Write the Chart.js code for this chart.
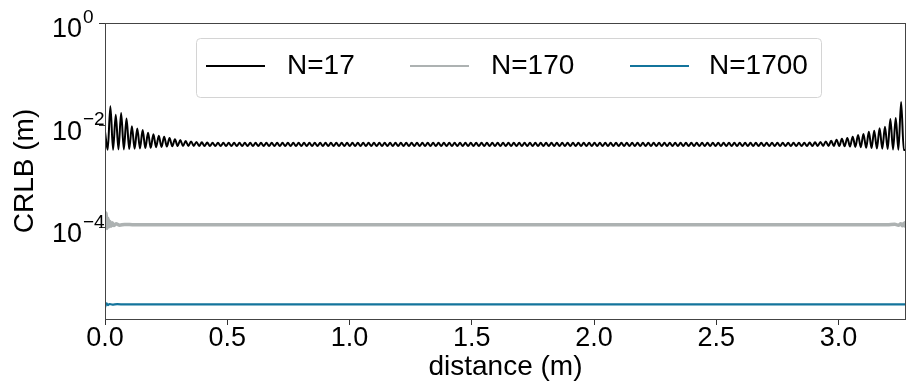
<!DOCTYPE html>
<html>
<head>
<meta charset="utf-8">
<script src="https://cdn.jsdelivr.net/npm/chart.js@4.4.1/dist/chart.umd.min.js"></script>
<style>
  html, body { margin: 0; padding: 0; background: #fff; }
  #contenedor { width: 906px; height: 388px; }
</style>
</head>
<body>
<div id="contenedor"><canvas id="graficaCRLB" width="906" height="388"></canvas></div>
<script>
const fuente = "'Liberation Sans', Arial, sans-serif";

// N=17: muestras cada media oscilacion (m)
const pasoN17 = 0.011;
// maximos (posiciones pares) y minimos (impares) de N=17, en mm
const picosN17 = [
  7.5, 23.5, 16, 17.2, 13.5, 9.5, 8.6, 8.0, 7.1, 6.6, 6.2, 5.9, 5.6, 5.3, 5.1, 4.9, 4.8, 4.7, 4.6, 4.55, 4.5, 4.5,
  4.5, 4.5, 4.5, 4.5, 4.5, 4.5, 4.5, 4.5, 4.5, 4.5, 4.5, 4.5, 4.5, 4.5, 4.5, 4.5, 4.5, 4.5,
  4.5, 4.5, 4.5, 4.5, 4.5, 4.5, 4.5, 4.5, 4.5, 4.5, 4.5, 4.5, 4.5, 4.5, 4.5, 4.5, 4.5, 4.5,
  4.5, 4.5, 4.5, 4.5, 4.5, 4.5, 4.5, 4.5, 4.5, 4.5, 4.5, 4.5, 4.5, 4.5, 4.5, 4.5, 4.5, 4.5,
  4.5, 4.5, 4.5, 4.5, 4.5, 4.5, 4.5, 4.5, 4.5, 4.5, 4.5, 4.5, 4.5, 4.5, 4.5, 4.5, 4.5, 4.5,
  4.5, 4.5, 4.5, 4.5, 4.5, 4.5, 4.5, 4.5, 4.5, 4.5, 4.5, 4.5, 4.5, 4.5, 4.5, 4.5, 4.5, 4.5,
  4.5, 4.5, 4.5, 4.5, 4.5, 4.5, 4.5, 4.5, 4.5, 4.5, 4.5, 4.5, 4.5, 4.5, 4.5, 4.5, 4.5, 4.5,
  4.5, 4.55, 4.6, 4.7, 4.8, 4.95, 5.2, 5.4, 5.6, 5.95, 6.4, 6.7, 7.4, 7.8, 8.7, 9.3, 13.2, 13.8, 28.5, 3.3
];
const vallesN17 = [
  3.3, 3.3, 3.35, 3.35, 3.4, 3.45, 3.5, 3.55, 3.6, 3.7, 3.75, 3.8, 3.85,
  3.9, 3.9, 3.9, 3.9, 3.9, 3.9, 3.9, 3.9, 3.9, 3.9, 3.9, 3.9, 3.9, 3.9, 3.9, 3.9, 3.9, 3.9, 3.9, 3.9,
  3.9, 3.9, 3.9, 3.9, 3.9, 3.9, 3.9, 3.9, 3.9, 3.9, 3.9, 3.9, 3.9, 3.9, 3.9, 3.9, 3.9, 3.9, 3.9, 3.9,
  3.9, 3.9, 3.9, 3.9, 3.9, 3.9, 3.9, 3.9, 3.9, 3.9, 3.9, 3.9, 3.9, 3.9, 3.9, 3.9, 3.9, 3.9, 3.9, 3.9,
  3.9, 3.9, 3.9, 3.9, 3.9, 3.9, 3.9, 3.9, 3.9, 3.9, 3.9, 3.9, 3.9, 3.9, 3.9, 3.9, 3.9, 3.9, 3.9, 3.9,
  3.9, 3.9, 3.9, 3.9, 3.9, 3.9, 3.9, 3.9, 3.9, 3.9, 3.9, 3.9, 3.9, 3.9, 3.9, 3.9, 3.9, 3.9, 3.9, 3.9,
  3.9, 3.9, 3.9, 3.9, 3.9, 3.9, 3.9, 3.9, 3.9, 3.9, 3.9, 3.9, 3.9, 3.9, 3.9, 3.9, 3.9, 3.9, 3.9, 3.9,
  3.9, 3.9, 3.9, 3.9,
  3.85, 3.8, 3.75, 3.7, 3.6, 3.55, 3.5, 3.45, 3.4, 3.35, 3.3, 3.25
];

const distanciaN170 = [0, 0.004, 0.008, 0.012, 0.016, 0.02, 0.025, 0.03, 0.036, 0.045, 0.06, 0.08, 0.12,
  0.5, 1.0, 1.5, 2.0, 2.5, 3.0, 3.2, 3.23, 3.245, 3.255, 3.262, 3.268, 3.272, 3.276];
const crlbN170 = [1.3e-4, 1.9e-4, 0.95e-4, 1.5e-4, 1.02e-4, 1.3e-4, 1.05e-4, 1.22e-4, 1.08e-4, 1.17e-4, 1.1e-4, 1.14e-4, 1.12e-4,
  1.12e-4, 1.12e-4, 1.12e-4, 1.12e-4, 1.12e-4, 1.12e-4, 1.12e-4, 1.15e-4, 1.09e-4, 1.17e-4, 1.07e-4, 1.2e-4, 1.05e-4, 1.3e-4];

const distanciaN1700 = [0, 0.006, 0.012, 0.018, 0.03, 0.05, 0.08, 0.12, 1.0, 2.0, 3.0, 3.276];
const crlbN1700 = [2.7e-6, 3.25e-6, 3.0e-6, 3.15e-6, 3.05e-6, 3.12e-6, 3.08e-6, 3.1e-6, 3.1e-6, 3.1e-6, 3.1e-6, 3.1e-6];

const etiquetas = ['N=17', 'N=170', 'N=1700'];
const colores = ['#000000', '#adb2b2', '#13749c'];
const grosores = [2, 3.5, 2.2];
const ticksX = [0, 0.5, 1.0, 1.5, 2.0, 2.5, 3.0];
const ticksY = [1e-4, 1e-2, 1];
const exponentesY = ['\u22124', '\u22122', '0'];

const puntosN17 = picosN17.flatMap((p, i) => {
  const pts = [{x: 2 * i * pasoN17, y: p * 1e-3}];
  if (i < vallesN17.length) pts.push({x: (2 * i + 1) * pasoN17, y: vallesN17[i] * 1e-3});
  return pts;
});
const puntosN170 = distanciaN170.map((d, i) => ({x: d, y: crlbN170[i]}));
const puntosN1700 = distanciaN1700.map((d, i) => ({x: d, y: crlbN1700[i]}));

const series = [puntosN17, puntosN170, puntosN1700].map((datos, i) => ({
  label: etiquetas[i],
  data: datos,
  borderColor: colores[i],
  backgroundColor: colores[i],
  borderWidth: grosores[i],
  pointRadius: 0,
  tension: 0.35,
  cubicInterpolationMode: 'monotone'
}));

const marcoYLeyenda = {
  id: 'marcoYLeyenda',
  afterDraw(chart) {
    const ctx = chart.ctx;
    const a = chart.chartArea;
    ctx.save();
    ctx.strokeStyle = '#444';
    ctx.lineWidth = 1;
    ctx.strokeRect(a.left + 0.5, a.top + 0.5, a.right - a.left - 1, a.bottom - a.top);

    // exponentes de las etiquetas del eje y
    const y = chart.scales.y;
    ctx.fillStyle = '#000';
    ctx.font = '19px ' + fuente;
    ctx.textAlign = 'left';
    ctx.textBaseline = 'middle';
    ticksY.forEach((v, i) => {
      ctx.fillText(exponentesY[i], 83, y.getPixelForValue(v) - 5);
    });

    // leyenda
    const caja = {x: 196, y: 38, w: 625, h: 59};
    ctx.fillStyle = 'rgba(255,255,255,0.8)';
    ctx.strokeStyle = '#d4d4d4';
    ctx.beginPath();
    ctx.roundRect(caja.x + 0.5, caja.y + 0.5, caja.w, caja.h, 4);
    ctx.fill();
    ctx.stroke();
    const lineaX = [206, 410, 630];
    const textoX = [287, 491, 709];
    ctx.font = '28px ' + fuente;
    chart.data.datasets.forEach((ds, i) => {
      ctx.strokeStyle = ds.borderColor;
      ctx.lineWidth = 2;
      ctx.beginPath();
      ctx.moveTo(lineaX[i], 66);
      ctx.lineTo(lineaX[i] + 59, 66);
      ctx.stroke();
      ctx.fillStyle = '#000';
      ctx.fillText(ds.label, textoX[i], 66);
    });
    ctx.restore();
  }
};

new Chart(document.getElementById('graficaCRLB'), {
  type: 'line',
  data: { datasets: series },
  options: {
    responsive: false,
    animation: false,
    layout: { padding: { top: 23, right: 0, left: 0, bottom: 0 } },
    plugins: { legend: { display: false }, tooltip: { enabled: false } },
    scales: {
      x: {
        type: 'linear',
        min: 0,
        max: 3.276,
        afterBuildTicks: s => { s.ticks = ticksX.map(v => ({value: v})); },
        afterFit: s => { s.height = 69; s.paddingLeft = 0; s.paddingRight = 0; },
        grid: { drawOnChartArea: false, tickLength: 6, color: '#333' },
        border: { color: '#444' },
        ticks: {
          color: '#000',
          font: { family: fuente, size: 27 },
          padding: -3,
          maxRotation: 0,
          autoSkip: false,
          callback: v => Number(v).toFixed(1)
        },
        title: {
          display: true,
          text: 'distance (m)',
          color: '#000',
          font: { family: fuente, size: 28, lineHeight: 1.5 },
          padding: 0
        }
      },
      y: {
        type: 'logarithmic',
        min: 1.6e-6,
        max: 1,
        afterBuildTicks: s => { s.ticks = ticksY.map(v => ({value: v})); },
        afterFit: s => { s.width = 105; s.paddingTop = 0; s.paddingBottom = 0; },
        grid: { drawOnChartArea: false, tickLength: 6, color: '#333' },
        border: { color: '#444' },
        ticks: {
          color: '#000',
          font: { family: fuente, size: 27 },
          padding: 17,
          labelOffset: 7,
          callback: () => '10'
        },
        title: {
          display: true,
          text: 'CRLB (m)',
          color: '#000',
          font: { family: fuente, size: 28, lineHeight: 1.8 },
          padding: 0
        }
      }
    }
  },
  plugins: [marcoYLeyenda]
});
</script>
</body>
</html>
